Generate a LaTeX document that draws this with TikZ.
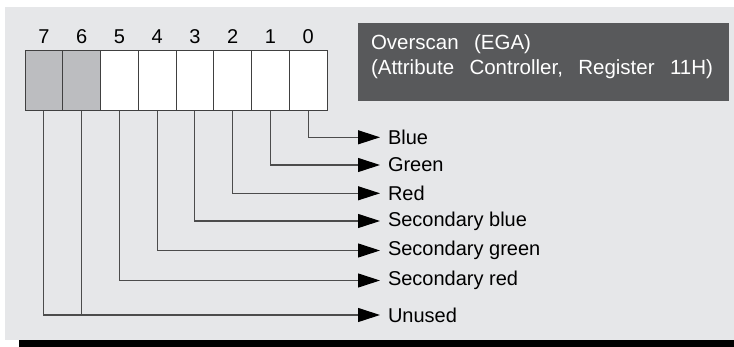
\documentclass[tikz,border=0pt]{standalone}
\usepackage{fontspec}
\setmainfont{Liberation Sans}
\usetikzlibrary{positioning,arrows.meta}
\definecolor{panelgray}{HTML}{E6E7E9}
\definecolor{cellgray}{HTML}{BCBDC0}
\definecolor{boxgray}{HTML}{58595B}
\newcommand\widegaps{\spaceskip=0.75em\relax}

\begin{document}
\begin{tikzpicture}[x=1pt, y=-1pt,
  every node/.style={font=\fontsize{20}{25}\selectfont, inner sep=0pt, outer sep=0pt},
  cell/.style={draw=black!75, line width=1pt, fill=white, minimum width=37.75pt, minimum height=60pt},
  bitno/.style={inner sep=0pt},
  outname/.style={anchor=west, inner xsep=8pt},
  conn/.style={draw=black!70, line width=1.1pt, -{Triangle[length=22pt,width=14pt,color=black]}}]
\useasboundingbox (0,0) rectangle (734,347);
\fill[panelgray] (5,7) rectangle (734,340);
\fill[black] (19,340) rectangle (734,347);

% register bits
\node[cell, fill=cellgray] (b7) at (43.9,81) {};
\node[cell, fill=cellgray, right=0pt of b7] (b6) {};
\node[cell, right=0pt of b6] (b5) {};
\node[cell, right=0pt of b5] (b4) {};
\node[cell, right=0pt of b4] (b3) {};
\node[cell, right=0pt of b3] (b2) {};
\node[cell, right=0pt of b2] (b1) {};
\node[cell, right=0pt of b1] (b0) {};
\node[bitno, above=7pt of b7] (d7) {7};
\node[bitno, above=7pt of b6] (d6) {6};
\node[bitno, above=7pt of b5] (d5) {5};
\node[bitno, above=7pt of b4] (d4) {4};
\node[bitno, above=7pt of b3] (d3) {3};
\node[bitno, above=7pt of b2] (d2) {2};
\node[bitno, above=7pt of b1] (d1) {1};
\node[bitno, above=7pt of b0] (d0) {0};

% title box
\node[fill=boxgray, anchor=north west, minimum width=371pt, minimum height=78pt] (ovbox) at (358,23) {};
\node[anchor=north west, align=left, text=white, font=\fontsize{20.5}{25}\selectfont\widegaps] (ovtext) at (371,35) {Overscan (EGA)\\(Attribute Controller, Register 11H)};

% outputs
\node[outname] (blue) at (380,137.3) {Blue};
\node[outname] (green) at (380,165) {Green};
\node[outname] (red) at (380,193.3) {Red};
\node[outname] (sblue) at (380,221) {Secondary blue};
\node[outname] (sgreen) at (380,250.5) {Secondary green};
\node[outname] (sred) at (380,280.5) {Secondary red};
\node[outname] (unused) at (380,315) {Unused};

\draw[conn] (b0.south) |- (blue.west);
\draw[conn] (b1.south) |- (green.west);
\draw[conn] (b2.south) |- (red.west);
\draw[conn] (b3.south) |- (sblue.west);
\draw[conn] (b4.south) |- (sgreen.west);
\draw[conn] (b5.south) |- (sred.west);
\draw[conn] (b7.south) |- (unused.west);
\draw[draw=black!70, line width=1.1pt] (b6.south) -- (b6.south |- unused.west);
\end{tikzpicture}
\end{document}
